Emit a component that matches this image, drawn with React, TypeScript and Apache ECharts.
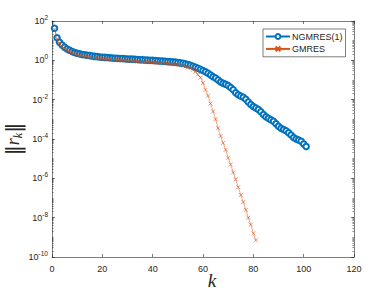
import React, { useEffect, useRef } from "react";
import * as echarts from "echarts";

// log10 of ||r_k||, k = 1..N
const ngmresLog10 = [
  1.63, 1.15, 0.92, 0.78, 0.67, 0.58, 0.51, 0.45, 0.40, 0.36,
  0.33, 0.30, 0.28, 0.26, 0.24, 0.22, 0.20, 0.19, 0.17, 0.16,
  0.15, 0.14, 0.13, 0.12, 0.11, 0.10, 0.09, 0.09, 0.08, 0.07,
  0.06, 0.06, 0.05, 0.04, 0.03, 0.03, 0.02, 0.01, 0.00, 0.00,
  -0.01, -0.02, -0.03, -0.04, -0.05, -0.06, -0.07, -0.08, -0.09, -0.11,
  -0.13, -0.15, -0.18, -0.21, -0.25, -0.30, -0.35, -0.40, -0.46, -0.52,
  -0.58, -0.66, -0.75, -0.83, -0.90, -1.00, -1.10, -1.17, -1.22, -1.28,
  -1.38, -1.50, -1.65, -1.75, -1.82, -1.88, -1.98, -2.12, -2.25, -2.35,
  -2.42, -2.50, -2.62, -2.75, -2.87, -2.95, -3.02, -3.10, -3.22, -3.35,
  -3.45, -3.52, -3.58, -3.68, -3.80, -3.92, -4.00, -4.05, -4.12, -4.25,
  -4.38,
];
const gmresLog10 = [
  1.58, 1.08, 0.85, 0.70, 0.59, 0.51, 0.44, 0.38, 0.33, 0.29,
  0.26, 0.23, 0.21, 0.19, 0.17, 0.15, 0.13, 0.12, 0.10, 0.09,
  0.08, 0.07, 0.06, 0.05, 0.04, 0.03, 0.02, 0.01, 0.00, -0.01,
  -0.02, -0.03, -0.04, -0.05, -0.06, -0.07, -0.08, -0.09, -0.10, -0.11,
  -0.12, -0.13, -0.14, -0.15, -0.16, -0.17, -0.18, -0.19, -0.21, -0.23,
  -0.25, -0.28, -0.31, -0.35, -0.40, -0.48, -0.58, -0.72, -0.88, -1.15,
  -1.50, -1.80, -2.20, -2.60, -3.00, -3.45, -3.85, -4.20, -4.55, -4.95,
  -5.30, -5.70, -6.05, -6.45, -6.85, -7.20, -7.60, -8.00, -8.35, -8.80,
  -9.15,
];
const seriesNames = ["NGMRES(1)", "GMRES"];
const xTicks = [0, 20, 40, 60, 80, 100, 120];
const yExpMin = -10;
const yExpMax = 2;

const BLUE = "#0072BD";
const ORANGE = "#D95319";
const AXIS = "#262626";

export default function App() {
  const ref = useRef<HTMLDivElement>(null);
  useEffect(() => {
    if (!ref.current) return;
    const chart = echarts.init(ref.current, null, { renderer: "svg" });
    const toPts = (arr: number[]) => arr.map((v, i) => [i + 1, Math.pow(10, v)]);
    const minorVals: number[] = [];
    for (let e = yExpMin; e < yExpMax; e++) {
      for (let m = 1; m <= 9; m++) minorVals.push(m * Math.pow(10, e));
    }
    minorVals.push(Math.pow(10, yExpMax));
    const yMin = Math.pow(10, yExpMin);
    const yMax = Math.pow(10, yExpMax);
    const labelFont = { fontFamily: "Liberation Sans, Arial, sans-serif", fontSize: 9, color: AXIS };
    const baseY = {
      type: "log" as const,
      logBase: 10,
      min: yMin,
      max: yMax,
      splitLine: { show: false },
    };
    chart.setOption({
      animation: false,
      grid: { left: 52, right: 38, top: 21, bottom: 37, containLabel: false, outerBoundsMode: "none" },
      graphic: [
        {
          type: "text",
          x: 13,
          y: 139,
          rotation: Math.PI / 2,
          style: {
            text: "{bar|‖}{r|r}{sub|k}{bar|‖}",
            align: "center",
            verticalAlign: "middle",
            fill: AXIS,
            rich: {
              bar: { fontFamily: "DejaVu Serif, serif", fontSize: 20, fill: AXIS },
              r: { fontFamily: "Liberation Serif, serif", fontStyle: "italic", fontSize: 18, fill: AXIS },
              sub: { fontFamily: "Liberation Serif, serif", fontStyle: "italic", fontSize: 12, fill: AXIS, padding: [9, 0, 0, 0] },
            },
          },
        },
        {
          type: "text",
          x: 212,
          y: 280,
          style: {
            text: "k",
            align: "center",
            verticalAlign: "middle",
            fontFamily: "Liberation Serif, serif",
            fontStyle: "italic",
            fontSize: 19,
            fill: AXIS,
          },
        },
      ],
      legend: {
        orient: "vertical",
        left: 263,
        top: 29,
        padding: [3, 3, 3, 2],
        itemGap: 3,
        itemWidth: 24,
        itemHeight: 6,
        borderColor: AXIS,
        borderWidth: 0.6,
        borderRadius: 0,
        backgroundColor: "#fff",
        textStyle: { ...labelFont, fontSize: 9, padding: [0, 0, 0, -3] },
        data: seriesNames,
      },
      xAxis: [
        {
          type: "value",
          min: 0,
          max: 120,
          interval: 20,
          position: "bottom",
          axisLine: { show: true, lineStyle: { color: AXIS, width: 0.6 } },
          axisTick: { show: true, inside: true, length: 3, lineStyle: { color: AXIS, width: 0.6 } },
          axisLabel: { ...labelFont, margin: 7, formatter: (v: number) => (xTicks.includes(v) ? String(v) : "") },
          splitLine: { show: false },
        },
        {
          type: "value",
          min: 0,
          max: 120,
          interval: 20,
          position: "top",
          axisLine: { show: true, lineStyle: { color: AXIS, width: 0.6 } },
          axisTick: { show: true, inside: true, length: 3, lineStyle: { color: AXIS, width: 0.6 } },
          axisLabel: { show: false },
          splitLine: { show: false },
        },
      ],
      yAxis: [
        {
          ...baseY,
          interval: 2,
          position: "left",
          axisLine: { show: true, lineStyle: { color: AXIS, width: 0.6 } },
          axisTick: { show: true, inside: true, length: 3, lineStyle: { color: AXIS, width: 0.6 } },
          axisLabel: {
            ...labelFont,
            margin: 4,
            formatter: (v: number) => "10{sup|" + Math.round(Math.log10(v)) + "}",
            rich: {
              sup: { fontFamily: "Liberation Sans, Arial, sans-serif", fontSize: 6.5, color: AXIS, verticalAlign: "bottom", padding: [0, 0, 7, 0] },
            },
          },
        },
        {
          ...baseY,
          position: "left",
          axisLine: { show: false },
          axisTick: { show: true, inside: true, length: 1.6, customValues: minorVals, lineStyle: { color: AXIS, width: 0.5 } },
          axisLabel: { show: false },
        },
        {
          ...baseY,
          interval: 2,
          position: "right",
          axisLine: { show: true, lineStyle: { color: AXIS, width: 0.6 } },
          axisTick: { show: true, inside: true, length: 3, lineStyle: { color: AXIS, width: 0.6 } },
          axisLabel: { show: false },
        },
        {
          ...baseY,
          position: "right",
          axisLine: { show: false },
          axisTick: { show: true, inside: true, length: 1.6, customValues: minorVals, lineStyle: { color: AXIS, width: 0.5 } },
          axisLabel: { show: false },
        },
      ],
      series: [
        {
          name: seriesNames[0],
          type: "line",
          xAxisIndex: 0,
          yAxisIndex: 0,
          data: toPts(ngmresLog10),
          symbol: "emptyCircle",
          symbolSize: 5.5,
          showAllSymbol: true,
          lineStyle: { color: BLUE, width: 0.5 },
          itemStyle: { color: BLUE, borderColor: BLUE, borderWidth: 0.5 },
          z: 2,
        },
        {
          name: seriesNames[1],
          type: "line",
          xAxisIndex: 0,
          yAxisIndex: 0,
          data: toPts(gmresLog10),
          symbol: "path://M0,0L10,10M10,0L0,10",
          symbolSize: 4,
          showAllSymbol: true,
          lineStyle: { color: ORANGE, width: 0.5 },
          itemStyle: { color: "none", borderColor: ORANGE, borderWidth: 0.6 },
          z: 3,
        },
      ],
    });
    return () => chart.dispose();
  }, []);
  return <div ref={ref} style={{ position: "absolute", left: 0, top: 0, width: 392, height: 294 }} />;
}
